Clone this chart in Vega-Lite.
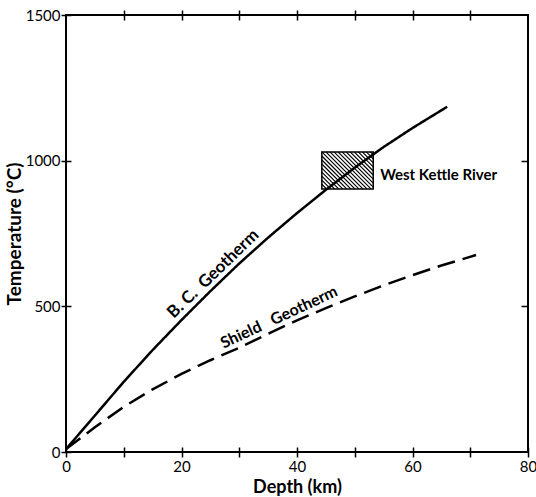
{
  "$schema": "https://vega.github.io/schema/vega-lite/v6.json",
  "width": 462,
  "height": 437,
  "autosize": {"type": "none"},
  "padding": {"left": 66, "top": 15, "right": 8, "bottom": 45},
  "config": {
    "view": {"stroke": "black", "strokeWidth": 2},
    "font": "Lato",
    "axis": {"grid": false, "domain": false, "tickColor": "black", "tickWidth": 1.5, "labelColor": "black", "titleColor": "black", "labelFont": "Lato", "titleFont": "Lato"}
  },
  "datasets": {
    "curves": [
      {"series": "B.C.", "depth": 0, "temp": 10},
      {"series": "B.C.", "depth": 5, "temp": 125},
      {"series": "B.C.", "depth": 10, "temp": 241},
      {"series": "B.C.", "depth": 15, "temp": 350},
      {"series": "B.C.", "depth": 20, "temp": 453},
      {"series": "B.C.", "depth": 25, "temp": 552},
      {"series": "B.C.", "depth": 30, "temp": 647},
      {"series": "B.C.", "depth": 35, "temp": 736},
      {"series": "B.C.", "depth": 40, "temp": 820},
      {"series": "B.C.", "depth": 45, "temp": 900},
      {"series": "B.C.", "depth": 50, "temp": 976},
      {"series": "B.C.", "depth": 55, "temp": 1047},
      {"series": "B.C.", "depth": 60, "temp": 1112},
      {"series": "B.C.", "depth": 66, "temp": 1185},
      {"series": "Shield", "depth": 0, "temp": 10},
      {"series": "Shield", "depth": 5, "temp": 85},
      {"series": "Shield", "depth": 10, "temp": 155},
      {"series": "Shield", "depth": 15, "temp": 215},
      {"series": "Shield", "depth": 20, "temp": 268},
      {"series": "Shield", "depth": 25, "temp": 315},
      {"series": "Shield", "depth": 30, "temp": 358},
      {"series": "Shield", "depth": 35, "temp": 406},
      {"series": "Shield", "depth": 40, "temp": 452},
      {"series": "Shield", "depth": 45, "temp": 494},
      {"series": "Shield", "depth": 50, "temp": 534},
      {"series": "Shield", "depth": 55, "temp": 572},
      {"series": "Shield", "depth": 60, "temp": 607},
      {"series": "Shield", "depth": 65, "temp": 640},
      {"series": "Shield", "depth": 71, "temp": 676}
    ],
    "hatch": [
      {"x1": 44.3, "t1": 919.1, "x2": 45.11, "t2": 903},
      {"x1": 44.3, "t1": 933.0, "x2": 45.81, "t2": 903},
      {"x1": 44.3, "t1": 946.8, "x2": 46.51, "t2": 903},
      {"x1": 44.3, "t1": 960.7, "x2": 47.21, "t2": 903},
      {"x1": 44.3, "t1": 974.6, "x2": 47.91, "t2": 903},
      {"x1": 44.3, "t1": 988.4, "x2": 48.61, "t2": 903},
      {"x1": 44.3, "t1": 1002.3, "x2": 49.31, "t2": 903},
      {"x1": 44.3, "t1": 1016.1, "x2": 50.01, "t2": 903},
      {"x1": 44.3, "t1": 1030, "x2": 50.71, "t2": 903},
      {"x1": 45.0, "t1": 1030, "x2": 51.41, "t2": 903},
      {"x1": 45.7, "t1": 1030, "x2": 52.11, "t2": 903},
      {"x1": 46.4, "t1": 1030, "x2": 52.81, "t2": 903},
      {"x1": 47.1, "t1": 1030, "x2": 53.2, "t2": 909.2},
      {"x1": 47.8, "t1": 1030, "x2": 53.2, "t2": 923.1},
      {"x1": 48.5, "t1": 1030, "x2": 53.2, "t2": 936.9},
      {"x1": 49.2, "t1": 1030, "x2": 53.2, "t2": 950.8},
      {"x1": 49.9, "t1": 1030, "x2": 53.2, "t2": 964.7},
      {"x1": 50.6, "t1": 1030, "x2": 53.2, "t2": 978.5},
      {"x1": 51.3, "t1": 1030, "x2": 53.2, "t2": 992.4},
      {"x1": 52.0, "t1": 1030, "x2": 53.2, "t2": 1006.2},
      {"x1": 52.7, "t1": 1030, "x2": 53.2, "t2": 1020.1}
    ]
  },
  "layer": [
    {
      "data": {"name": "curves"},
      "mark": {"type": "line", "color": "black", "strokeWidth": 2.5},
      "encoding": {
        "x": {"field": "depth", "type": "quantitative", "scale": {"domain": [0, 80], "nice": false},
          "axis": {"orient": "bottom", "title": "Depth (km)", "values": [0, 10, 20, 30, 40, 50, 60, 70, 80], "format": "d",
            "labelExpr": "datum.value % 20 == 0 ? datum.label : ''", "offset": -5, "tickSize": 10,
            "labelPadding": 2, "labelFontSize": 15, "titleFontSize": 18, "titleFontWeight": "bold", "titlePadding": 4, "labelFlush": false}},
        "y": {"field": "temp", "type": "quantitative", "scale": {"domain": [0, 1500], "nice": false},
          "axis": {"orient": "left", "title": "Temperature (°C)", "values": [0, 500, 1000, 1500], "format": "d", "offset": -5, "tickSize": 10,
            "labelPadding": 1, "labelFontSize": 15, "titleFontSize": 19, "titleFontWeight": "bold", "titlePadding": 1, "labelFlush": false}},
        "detail": {"field": "series"},
        "strokeDash": {"field": "series", "type": "nominal", "scale": {"domain": ["B.C.", "Shield"], "range": [[1, 0], [18, 8]]}, "legend": null}
      }
    },
    {
      "data": {"values": [{"x1": 44.3, "x2": 53.2, "t1": 903, "t2": 1030}]},
      "mark": {"type": "rect", "fill": null, "stroke": "black", "strokeWidth": 1.5},
      "encoding": {
        "x": {"field": "x1", "type": "quantitative",
          "axis": {"orient": "top", "title": null, "labels": false, "values": [10, 20, 30, 40, 50, 60, 70], "offset": -5, "tickSize": 10}},
        "x2": {"field": "x2"},
        "y": {"field": "t1", "type": "quantitative",
          "axis": {"orient": "right", "title": null, "labels": false, "values": [500, 1000], "offset": -7, "tickSize": 7}},
        "y2": {"field": "t2"}
      }
    },
    {
      "data": {"name": "hatch"},
      "mark": {"type": "rule", "color": "black", "strokeWidth": 1.2},
      "encoding": {
        "x": {"field": "x1", "type": "quantitative", "axis": null},
        "x2": {"field": "x2"},
        "y": {"field": "t1", "type": "quantitative", "axis": null},
        "y2": {"field": "t2"}
      }
    },
    {
      "data": {"values": [{"depth": 25.5, "temp": 611, "label": "B. C.\u00a0\u00a0Geotherm"}]},
      "mark": {"type": "text", "angle": -44, "font": "Lato", "fontWeight": "bold", "fontSize": 17, "color": "black"},
      "encoding": {"x": {"field": "depth", "type": "quantitative", "axis": null}, "y": {"field": "temp", "type": "quantitative", "axis": null}, "text": {"field": "label"}}
    },
    {
      "data": {"values": [{"depth": 36.9, "temp": 462, "label": "Shield\u00a0\u00a0\u00a0Geotherm"}]},
      "mark": {"type": "text", "angle": -25, "font": "Lato", "fontWeight": "bold", "fontSize": 16, "color": "black"},
      "encoding": {"x": {"field": "depth", "type": "quantitative", "axis": null}, "y": {"field": "temp", "type": "quantitative", "axis": null}, "text": {"field": "label"}}
    },
    {
      "data": {"values": [{"depth": 54.4, "temp": 951, "label": "West Kettle River"}]},
      "mark": {"type": "text", "align": "left", "baseline": "middle", "font": "Lato", "fontWeight": "bold", "fontSize": 15, "color": "black"},
      "encoding": {"x": {"field": "depth", "type": "quantitative", "axis": null}, "y": {"field": "temp", "type": "quantitative", "axis": null}, "text": {"field": "label"}}
    }
  ],
  "resolve": {"axis": {"x": "independent", "y": "independent"}}
}
